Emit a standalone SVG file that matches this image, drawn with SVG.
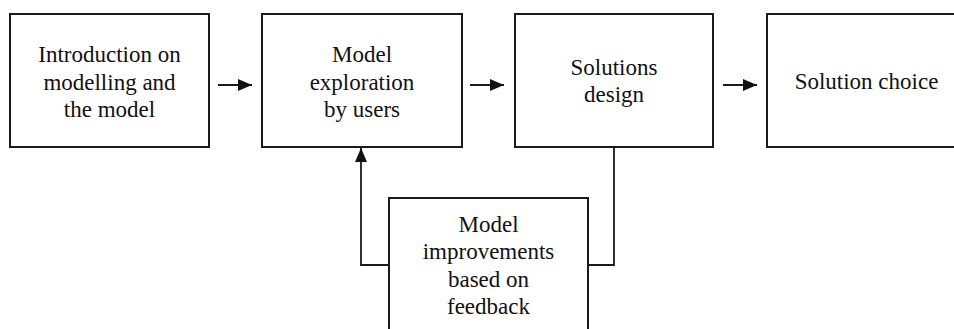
<svg xmlns="http://www.w3.org/2000/svg" width="954" height="329" viewBox="0 0 954 329">
<defs>
<style>
.box{fill:#fff;stroke:#1a1a1a;stroke-width:2}
.t{font-family:"Liberation Serif","Times New Roman",serif;font-size:23px;fill:#111;text-anchor:middle}
.c{fill:none;stroke:#1a1a1a;stroke-width:1.8}
</style>
<marker id="ah" markerWidth="14" markerHeight="12" refX="14" refY="6" orient="auto" markerUnits="userSpaceOnUse" viewBox="0 0 14 12">
<path d="M0,0 L14,6 L0,12 Z" fill="#111"/>
</marker>
</defs>
<rect width="954" height="329" fill="#fff"/>
<g id="connectors">
<line class="c" x1="218" y1="85" x2="252" y2="85" marker-end="url(#ah)"/>
<line class="c" x1="470" y1="85" x2="504" y2="85" marker-end="url(#ah)"/>
<line class="c" x1="723" y1="85" x2="757" y2="85" marker-end="url(#ah)"/>
<polyline class="c" points="389,265 361,265 361,148" marker-end="url(#ah)"/>
<polyline class="c" points="614,147 614,265 588,265"/>
</g>
<g id="n1">
<rect class="box" x="10" y="14" width="199" height="133"/>
<text class="t" x="109.5" y="62">Introduction on</text>
<text class="t" x="109.5" y="89.5">modelling and</text>
<text class="t" x="109.5" y="117">the model</text>
</g>
<g id="n2">
<rect class="box" x="262" y="14" width="200" height="133"/>
<text class="t" x="362" y="62">Model</text>
<text class="t" x="362" y="89.5">exploration</text>
<text class="t" x="362" y="117">by users</text>
</g>
<g id="n3">
<rect class="box" x="515" y="14" width="198" height="133"/>
<text class="t" x="614" y="74.5">Solutions</text>
<text class="t" x="614" y="102">design</text>
</g>
<g id="n4">
<rect class="box" x="767" y="14" width="200" height="133"/>
<text class="t" x="866.5" y="88.5">Solution choice</text>
</g>
<g id="n5">
<rect class="box" x="389" y="198" width="199" height="140"/>
<text class="t" x="488.5" y="231.5">Model</text>
<text class="t" x="488.5" y="259">improvements</text>
<text class="t" x="488.5" y="287">based on</text>
<text class="t" x="488.5" y="314">feedback</text>
</g>
</svg>
